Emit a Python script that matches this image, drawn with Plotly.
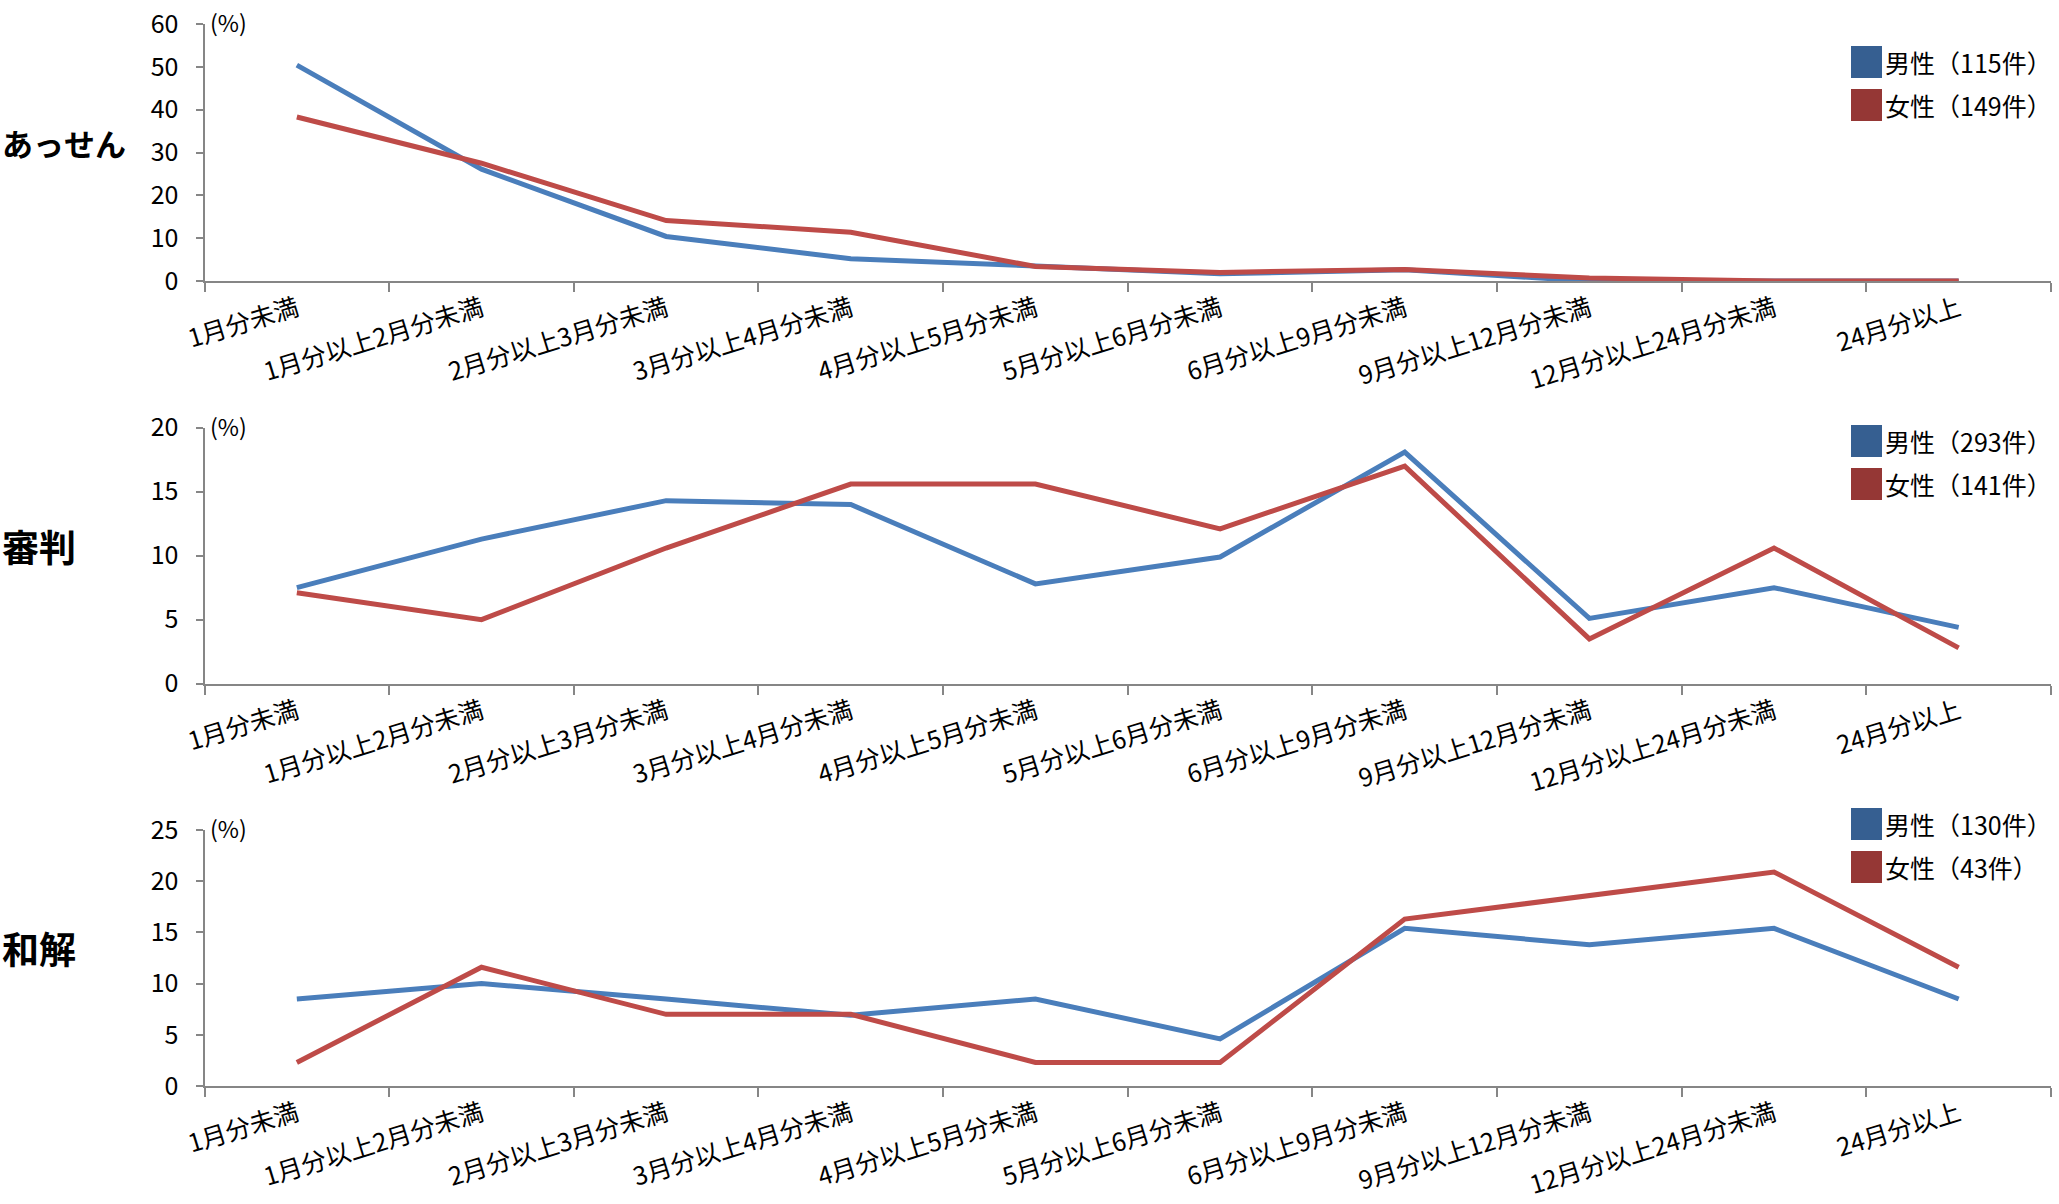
import plotly.graph_objects as go

# Duration categories (months)
categories = [
    "1月分未満", "1月分以上2月分未満", "2月分以上3月分未満", "3月分以上4月分未満",
    "4月分以上5月分未満", "5月分以上6月分未満", "6月分以上9月分未満",
    "9月分以上12月分未満", "12月分以上24月分未満", "24月分以上",
]

panel_titles = ["あっせん", "審判", "和解"]

# Share of cases (%) per duration category
assen_male = [50.4, 26.1, 10.4, 5.2, 3.5, 1.7, 2.6, 0.0, 0.0, 0.0]
assen_female = [38.3, 27.5, 14.1, 11.4, 3.4, 2.0, 2.7, 0.7, 0.0, 0.0]
shinpan_male = [7.5, 11.3, 14.3, 14.0, 7.8, 9.9, 18.1, 5.1, 7.5, 4.4]
shinpan_female = [7.1, 5.0, 10.6, 15.6, 15.6, 12.1, 17.0, 3.5, 10.6, 2.8]
wakai_male = [8.5, 10.0, 8.5, 6.9, 8.5, 4.6, 15.4, 13.8, 15.4, 8.5]
wakai_female = [2.3, 11.6, 7.0, 7.0, 2.3, 2.3, 16.3, 18.6, 20.9, 11.6]

# Case counts shown in each legend
male_counts = [115, 293, 130]
female_counts = [149, 141, 43]

# Y-axis maxima per panel
y_max = [60, 20, 25]
y_step = [10, 5, 5]

W, H = 2059, 1204
FONT = "Noto Sans CJK JP, Noto Sans, sans-serif"
AXIS_GRAY = "#868686"
LINE_BLUE = "#4A7EBB"
LINE_RED = "#BE4B48"
KEY_BLUE = "#365F91"
KEY_RED = "#953735"

# Plot area geometry in pixels (top, bottom) for each panel
x_left, x_right = 204.5, 2051
panel_px = [(24, 281), (427.7, 683.7), (830, 1086)]
title_sizes = [31, 37, 37]
legend_tops = [46, 425, 808]


def py(px):
    return 1 - px / H


def pxx(px):
    return px / W


male_series = [assen_male, shinpan_male, wakai_male]
female_series = [assen_female, shinpan_female, wakai_female]

fig = go.Figure()
layout = dict(
    width=W, height=H,
    margin=dict(l=0, r=0, t=0, b=0, autoexpand=False),
    paper_bgcolor="white", plot_bgcolor="white",
    showlegend=False,
    font=dict(family=FONT, color="#000000"),
)
annotations = []
shapes = []

for i in range(3):
    suffix = "" if i == 0 else str(i + 1)
    xa, ya = "x" + suffix, "y" + suffix
    fig.add_trace(go.Scatter(
        x=categories, y=male_series[i], mode="lines",
        line=dict(color=LINE_BLUE, width=5), xaxis=xa, yaxis=ya,
        name=f"男性（{male_counts[i]}件）",
    ))
    fig.add_trace(go.Scatter(
        x=categories, y=female_series[i], mode="lines",
        line=dict(color=LINE_RED, width=5), xaxis=xa, yaxis=ya,
        name=f"女性（{female_counts[i]}件）",
    ))
    top, bot = panel_px[i]
    layout["xaxis" + suffix] = dict(
        domain=[pxx(x_left), pxx(x_right)], anchor=ya, automargin=False,
        type="category", range=[-0.5, len(categories) - 0.5],
        tickson="boundaries", ticks="outside", ticklen=9, tickwidth=2,
        tickcolor=AXIS_GRAY, showline=True, linecolor=AXIS_GRAY, linewidth=2,
        showgrid=False, zeroline=False, tickangle=-17, ticklabelstandoff=2,
        tickfont=dict(size=25, family=FONT, color="#000000"),
    )
    layout["yaxis" + suffix] = dict(
        domain=[py(bot), py(top)], anchor=xa, automargin=False,
        range=[0, y_max[i]], dtick=y_step[i], tick0=0,
        ticks="outside", ticklen=7, tickwidth=2, tickcolor=AXIS_GRAY,
        showline=True, linecolor=AXIS_GRAY, linewidth=2,
        showgrid=False, zeroline=False, ticklabelstandoff=12,
        tickfont=dict(size=25, family=FONT, color="#000000"),
    )
    # Unit label next to the top of the y axis
    annotations.append(dict(
        xref="paper", yref="paper", x=pxx(208), y=py(top - 2),
        text="(%)", showarrow=False, xanchor="left", yanchor="middle",
        font=dict(size=23, family=FONT, color="#000000"),
    ))
    # Panel title on the left
    annotations.append(dict(
        xref="paper", yref="paper", x=0, y=py((top + bot) / 2 - 10),
        text=f"<b>{panel_titles[i]}</b>", showarrow=False,
        xanchor="left", yanchor="middle",
        font=dict(size=title_sizes[i], family=FONT, color="#000000"),
    ))
    # Legend: coloured squares with labels
    for j, (col, label) in enumerate([
        (KEY_BLUE, f"男性（{male_counts[i]}件）"),
        (KEY_RED, f"女性（{female_counts[i]}件）"),
    ]):
        t = legend_tops[i] + j * 43
        shapes.append(dict(
            type="rect", xref="paper", yref="paper",
            x0=pxx(1851), x1=pxx(1882), y0=py(t + 32), y1=py(t),
            fillcolor=col, line=dict(width=0),
        ))
        annotations.append(dict(
            xref="paper", yref="paper", x=pxx(1884), y=py(t + 16),
            text=label, showarrow=False, xanchor="left", yanchor="middle",
            borderpad=0,
            font=dict(size=25, family=FONT, color="#000000"),
        ))

layout["annotations"] = annotations
layout["shapes"] = shapes
fig.update_layout(**layout)
fig.write_html("out.html")
